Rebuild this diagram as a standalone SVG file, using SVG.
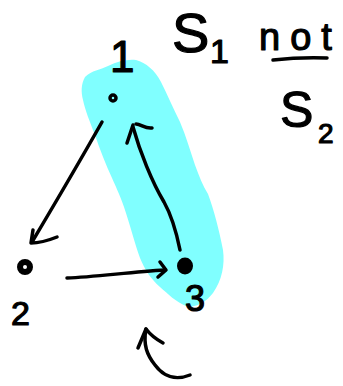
<svg xmlns="http://www.w3.org/2000/svg" width="343" height="386" viewBox="0 0 343 386">
<style>
.ink{fill:none;stroke:#000;stroke-width:3.5;stroke-linecap:round;stroke-linejoin:round}
.lbl{font-family:"Liberation Sans","DejaVu Sans",sans-serif;fill:#000;stroke:#000;stroke-width:1.2;stroke-linejoin:round}
</style>
<rect width="343" height="386" fill="#fff"/>
<g id="highlight">
<path fill="#80ffff" d="M85,77 C92,70 100,70 108,66 C118,61 128,59 136,60 C146,63 155,70 161,82 C167,94 173,108 180,122 C186,136 190,150 195,165 C199,176 203,186 208,194 C214,210 219,230 223,250 C225,265 222,280 213,293 C206,302 196,308 186,306 C176,302 168,294 160,287 C150,278 145,270 140,258 C135,244 130,225 124,207 C119,193 115,185 112,178 C106,165 100,150 95,135 C90,122 85,110 83,100 C81,92 81,84 85,77 Z"/>
</g>
<g id="connectors">
<path class="ink" d="M102,122 C85,152 60,195 32,242"/>
<path class="ink" d="M33,230 L31,243 Q42,243 57,237"/>
<path class="ink" d="M67,278 C95,277 130,272 165,270"/>
<path class="ink" d="M160,262 L166,270 L158,277"/>
<path class="ink" d="M180,250 C177,235 173,218 164,202 C152,182 140,152 133,127"/>
<path class="ink" d="M127,143 L133,125"/>
<path class="ink" d="M136,124 C141,124 145,129 152,128"/>
<path class="ink" d="M190,375 C175,381 163,376 155,365 C147,355 143,345 146,329"/>
<path class="ink" d="M138,348 L146,329 Q152,337 163,343"/>
</g>
<g id="node-1">
<circle cx="113" cy="98" r="3" class="ink"/>
<text class="lbl" x="110" y="72" font-size="44">1</text>
</g>
<g id="node-2">
<circle cx="25" cy="267" r="5" fill="none" stroke="#000" stroke-width="6"/>
<text class="lbl" x="11" y="325" font-size="34">2</text>
</g>
<g id="node-3">
<ellipse cx="185" cy="266" rx="8" ry="8.5" fill="#000"/>
<text class="lbl" x="185" y="311" font-size="36">3</text>
</g>
<g id="caption">
<text class="lbl" x="172" y="52" font-size="56">S</text>
<text class="lbl" x="210" y="63" font-size="34">1</text>
<text class="lbl" x="259" y="50" font-size="38" letter-spacing="10">not</text>
<path class="ink" d="M273,60 Q300,57 327,58"/>
<text class="lbl" x="280" y="127" font-size="50">S</text>
<text class="lbl" x="318" y="143" font-size="28">2</text>
</g>
</svg>
